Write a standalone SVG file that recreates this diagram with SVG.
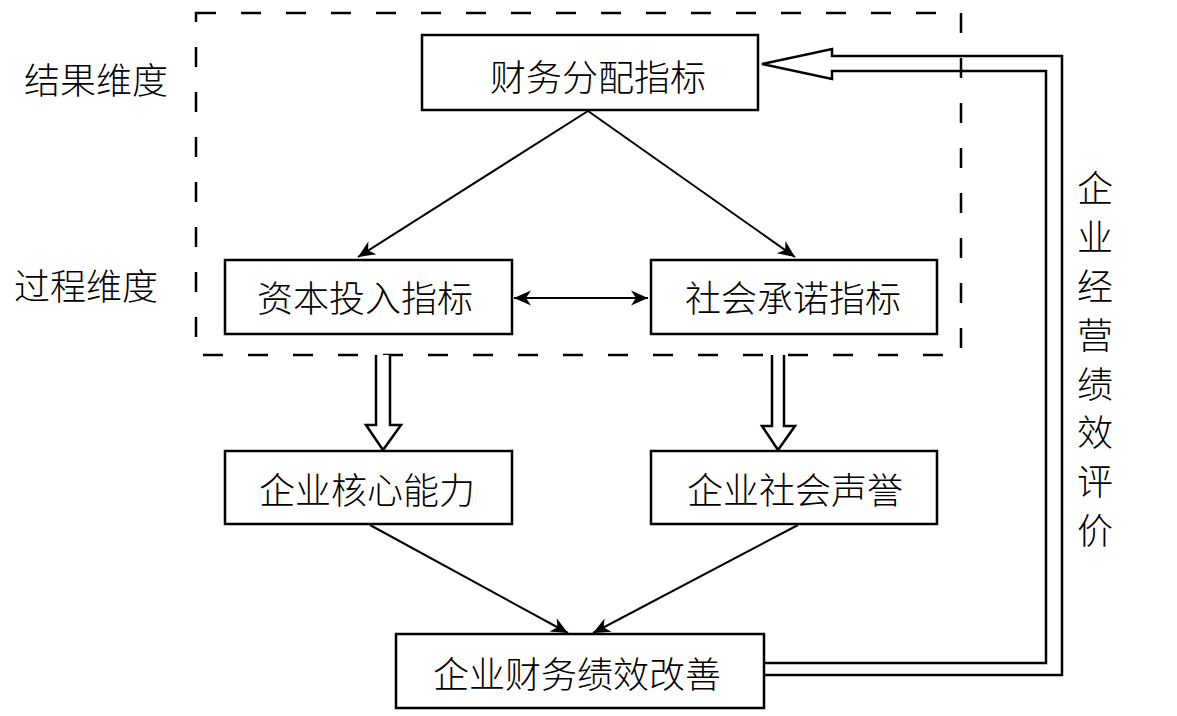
<svg xmlns="http://www.w3.org/2000/svg" width="1177" height="716" viewBox="0 0 1177 716">
<style>
.box{fill:#fff;stroke:#000;stroke-width:2.5}
.t{font-family:"Noto Sans CJK SC","Noto Sans CJK JP",sans-serif;font-size:36px;fill:#000;text-anchor:middle;dominant-baseline:central;font-weight:300}
.ln{fill:none;stroke:#000;stroke-width:2}
.dbl{fill:none;stroke:#000;stroke-width:2.5}
.hollow{fill:#fff;stroke:#000;stroke-width:2.5;stroke-linejoin:miter}
.dash{fill:none;stroke:#000;stroke-width:2.5;stroke-dasharray:20 25}
</style>
<defs>
<marker id="ah" markerUnits="userSpaceOnUse" markerWidth="20" markerHeight="20" viewBox="-18 -9 20 18" refX="0" refY="0" orient="auto-start-reverse">
<path d="M0,0 L-17,-7.5 L-12,0 L-17,7.5 Z" fill="#000"/>
</marker>
</defs>
<rect width="1177" height="716" fill="#fff"/>
<g id="boundary">
<rect class="dash" x="196" y="13" width="765" height="342"/>
</g>
<g id="labels">
<text class="t" x="96" y="78">结果维度</text>
<text class="t" x="86" y="284">过程维度</text>
<g id="feedback-label">
<text class="t" x="1095" y="186">企</text>
<text class="t" x="1095" y="235">业</text>
<text class="t" x="1095" y="284">经</text>
<text class="t" x="1095" y="333">营</text>
<text class="t" x="1095" y="382">绩</text>
<text class="t" x="1095" y="430">效</text>
<text class="t" x="1095" y="479">评</text>
<text class="t" x="1095" y="528">价</text>
</g>
</g>
<g id="connectors">
<line class="ln" x1="588" y1="111" x2="358" y2="257" marker-end="url(#ah)"/>
<line class="ln" x1="588" y1="111" x2="795" y2="257" marker-end="url(#ah)"/>
<line class="ln" x1="514" y1="298" x2="648" y2="298" marker-start="url(#ah)" marker-end="url(#ah)"/>
<line class="ln" x1="370" y1="525" x2="568" y2="633" marker-end="url(#ah)"/>
<line class="ln" x1="798" y1="525" x2="593" y2="633" marker-end="url(#ah)"/>
<path class="hollow" d="M376,355 L376,425 L366,425 L383,450 L401,425 L390,425 L390,355"/>
<path class="hollow" d="M772,355 L772,426 L762,426 L778,450 L795,426 L784,426 L784,355"/>
<path class="dbl" d="M764,675 L1062,675 L1062,56 L832,56 L832,49 L762,64 L832,79 L832,71 L1046,71 L1046,663 L764,663"/>
</g>
<g id="n-finance">
<rect class="box" x="422" y="35" width="336" height="75"/>
<text class="t" x="598" y="75">财务分配指标</text>
</g>
<g id="n-capital">
<rect class="box" x="225" y="260" width="287" height="74"/>
<text class="t" x="365" y="296">资本投入指标</text>
</g>
<g id="n-social">
<rect class="box" x="651" y="260" width="286" height="74"/>
<text class="t" x="793" y="296">社会承诺指标</text>
</g>
<g id="n-core">
<rect class="box" x="225" y="451" width="287" height="73"/>
<text class="t" x="367" y="488">企业核心能力</text>
</g>
<g id="n-reputation">
<rect class="box" x="651" y="451" width="286" height="73"/>
<text class="t" x="795" y="488">企业社会声誉</text>
</g>
<g id="n-performance">
<rect class="box" x="396" y="634" width="368" height="74"/>
<text class="t" x="577" y="672">企业财务绩效改善</text>
</g>
</svg>
